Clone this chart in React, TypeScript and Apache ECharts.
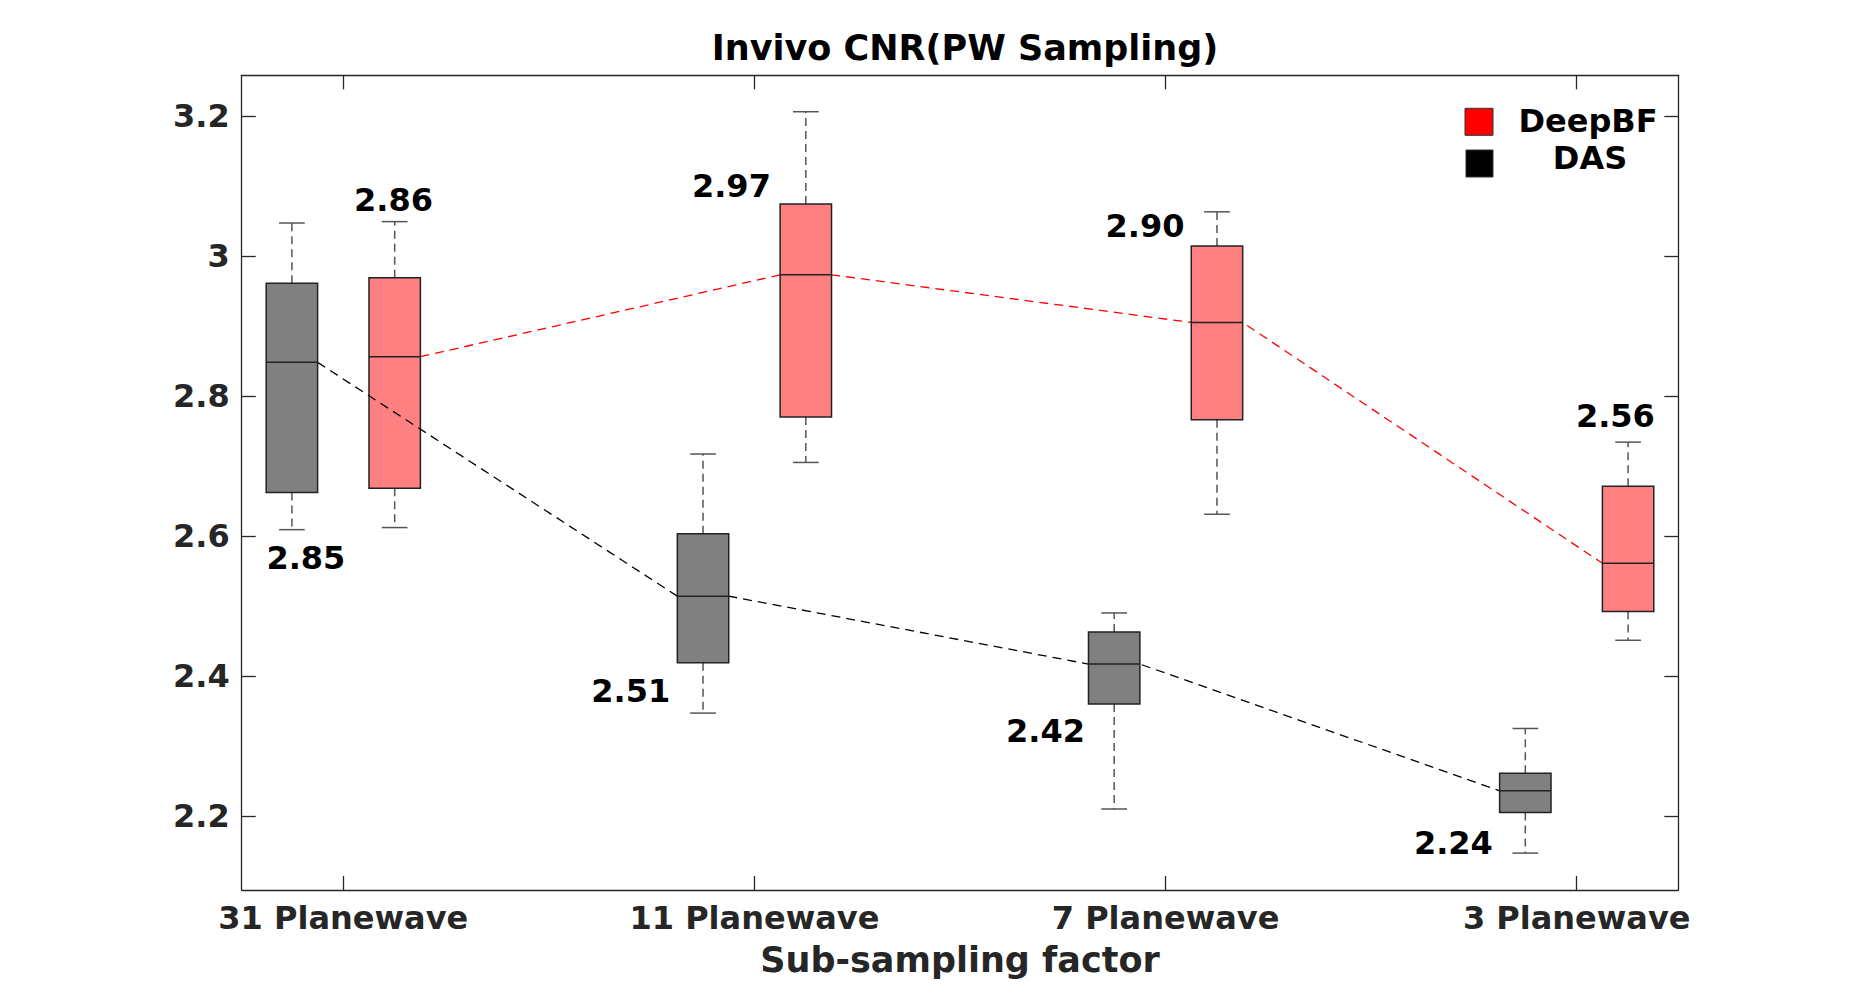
import React, { useEffect, useRef } from "react";
import * as echarts from "echarts";

// ---------------- data ----------------
const categories = ["31 Planewave", "11 Planewave", "7 Planewave", "3 Planewave"];
const groupPos = [1, 2, 3, 4];
const yTicks = [2.2, 2.4, 2.6, 2.8, 3.0, 3.2];

// [min, q1, median, q3, max]
const dasStats = [
  [2.609, 2.662, 2.848, 2.961, 3.047],
  [2.347, 2.419, 2.514, 2.603, 2.717],
  [2.21, 2.36, 2.417, 2.463, 2.49],
  [2.147, 2.205, 2.236, 2.261, 2.325],
];
const deepStats = [
  [2.612, 2.668, 2.856, 2.969, 3.049],
  [2.705, 2.77, 2.973, 3.074, 3.206],
  [2.631, 2.766, 2.905, 3.014, 3.063],
  [2.451, 2.492, 2.561, 2.671, 2.734],
];

const dasLabels = ["2.85", "2.51", "2.42", "2.24"];
const dasLabelX = [0.909, 1.699, 2.708, 3.7];
const dasLabelY = [2.569, 2.379, 2.321, 2.162];
const deepLabels = ["2.86", "2.97", "2.90", "2.56"];
const deepLabelX = [1.122, 1.944, 2.95, 4.094];
const deepLabelY = [3.08, 3.1, 3.043, 2.771];

const legendNames = ["DeepBF", "DAS"];

// ---------------- layout / style constants ----------------
const X_MIN = 0.7529;
const X_MAX = 4.2471;
const Y_MIN = 2.0943;
const Y_MAX = 3.258;
const BOX_OFFSET = 0.125;
const BOX_WIDTH = 0.125;
const FONT = '"DejaVu Sans", "Liberation Sans", sans-serif';
const AXIS_COLOR = "#262626";

function makeRender(fill: string) {
  return (params: any, api: any) => {
    const x = api.value(0);
    const mn = api.value(1);
    const q1 = api.value(2);
    const med = api.value(3);
    const q3 = api.value(4);
    const mx = api.value(5);
    const pMin = api.coord([x, mn]);
    const pQ1 = api.coord([x, q1]);
    const pMed = api.coord([x, med]);
    const pQ3 = api.coord([x, q3]);
    const pMax = api.coord([x, mx]);
    const w = api.size([BOX_WIDTH, 0])[0];
    const cx = pMed[0];
    const whisk = { stroke: "#555555", lineWidth: 1.5, lineDash: [8, 5] };
    const cap = { stroke: "#555555", lineWidth: 1.5 };
    return {
      type: "group",
      children: [
        { type: "line", shape: { x1: cx, y1: pQ3[1], x2: cx, y2: pMax[1] }, style: whisk },
        { type: "line", shape: { x1: cx, y1: pQ1[1], x2: cx, y2: pMin[1] }, style: whisk },
        { type: "line", shape: { x1: cx - w / 4, y1: pMax[1], x2: cx + w / 4, y2: pMax[1] }, style: cap },
        { type: "line", shape: { x1: cx - w / 4, y1: pMin[1], x2: cx + w / 4, y2: pMin[1] }, style: cap },
        {
          type: "rect",
          shape: { x: cx - w / 2, y: pQ3[1], width: w, height: pQ1[1] - pQ3[1] },
          style: { fill, stroke: "#222222", lineWidth: 1.5 },
        },
        {
          type: "line",
          shape: { x1: cx - w / 2, y1: pMed[1], x2: cx + w / 2, y2: pMed[1] },
          style: { stroke: "#222222", lineWidth: 1.5 },
        },
      ],
    };
  };
}

function connectData(stats: number[][], offset: number) {
  const pts: number[][] = [];
  for (let i = 0; i < stats.length - 1; i++) {
    pts.push([groupPos[i] + offset + BOX_WIDTH / 2, stats[i][2]]);
    pts.push([groupPos[i + 1] + offset - BOX_WIDTH / 2, stats[i + 1][2]]);
  }
  return pts;
}

const allLabelTexts = [...deepLabels, ...dasLabels];
const allLabelX = [...deepLabelX, ...dasLabelX];
const allLabelY = [...deepLabelY, ...dasLabelY];

function renderLabel(params: any, api: any) {
  const p = api.coord([api.value(0), api.value(1)]);
  const idx = api.value(2);
  return {
    type: "text",
    x: p[0],
    y: p[1],
    style: {
      text: allLabelTexts[idx],
      textAlign: "center",
      textVerticalAlign: "middle",
      font: `bold 32px ${FONT}`,
      fill: "#000000",
    },
  };
}

export default function App() {
  const ref = useRef<HTMLDivElement>(null);
  useEffect(() => {
    if (!ref.current) return;
    const chart = echarts.init(ref.current, undefined, { renderer: "svg" });
    const axisLine = { show: true, onZero: false, lineStyle: { color: AXIS_COLOR, width: 1.3 } };
    const tickStyle = { color: AXIS_COLOR, width: 1.3 };
    const labelStyle = {
      fontSize: 32,
      fontWeight: "bold" as const,
      color: AXIS_COLOR,
      fontFamily: FONT,
    };
    chart.setOption({
      animation: false,
      backgroundColor: "#fff",
      title: {
        text: "Invivo CNR(PW Sampling)",
        left: 960,
        top: 25,
        textAlign: "center",
        textStyle: { fontSize: 35, fontWeight: "bold", color: "#000", fontFamily: FONT },
      },
      grid: { left: 241.7, top: 75.3, width: 1436.6, height: 814.7 },
      xAxis: [
        {
          type: "value",
          position: "bottom",
          min: X_MIN,
          max: X_MAX,
          axisLine,
          axisTick: { show: true, inside: true, length: 14, customValues: groupPos, lineStyle: tickStyle },
          axisLabel: {
            ...labelStyle,
            margin: 12,
            customValues: groupPos,
            formatter: (v: number) => categories[Math.round(v) - 1] ?? "",
          },
          splitLine: { show: false },
          name: "Sub-sampling factor",
          nameLocation: "middle",
          nameGap: 52,
          nameTextStyle: { fontSize: 35, fontWeight: "bold", color: AXIS_COLOR, fontFamily: FONT },
        },
        {
          type: "value",
          position: "top",
          min: X_MIN,
          max: X_MAX,
          axisLine,
          axisTick: { show: true, inside: true, length: 14, customValues: groupPos, lineStyle: tickStyle },
          axisLabel: { show: false },
          splitLine: { show: false },
        },
      ],
      yAxis: [
        {
          type: "value",
          position: "left",
          min: Y_MIN,
          max: Y_MAX,
          axisLine,
          axisTick: { show: true, inside: true, length: 14, customValues: yTicks, lineStyle: tickStyle },
          axisLabel: { ...labelStyle, margin: 12, customValues: yTicks },
          splitLine: { show: false },
        },
        {
          type: "value",
          position: "right",
          min: Y_MIN,
          max: Y_MAX,
          axisLine,
          axisTick: { show: true, inside: true, length: 14, customValues: yTicks, lineStyle: tickStyle },
          axisLabel: { show: false },
          splitLine: { show: false },
        },
      ],
      series: [
        {
          name: "DeepBF line",
          type: "line",
          z: 1,
          xAxisIndex: 0,
          yAxisIndex: 0,
          symbol: "none",
          data: connectData(deepStats, BOX_OFFSET),
          lineStyle: { color: "#ff0000", width: 1.3, type: [9, 6] },
          silent: true,
        },
        {
          name: "DeepBF",
          type: "custom",
          z: 2,
          xAxisIndex: 0,
          yAxisIndex: 0,
          renderItem: makeRender("#ff8080"),
          encode: { x: 0, y: [1, 2, 3, 4, 5] },
          data: deepStats.map((s, i) => [groupPos[i] + BOX_OFFSET, ...s]),
          silent: true,
        },
        {
          name: "DAS line",
          type: "line",
          z: 3,
          xAxisIndex: 0,
          yAxisIndex: 0,
          symbol: "none",
          data: connectData(dasStats, -BOX_OFFSET),
          lineStyle: { color: "#000000", width: 1.3, type: [9, 6] },
          silent: true,
        },
        {
          name: "DAS",
          type: "custom",
          z: 4,
          xAxisIndex: 0,
          yAxisIndex: 0,
          renderItem: makeRender("#808080"),
          encode: { x: 0, y: [1, 2, 3, 4, 5] },
          data: dasStats.map((s, i) => [groupPos[i] - BOX_OFFSET, ...s]),
          silent: true,
        },
        {
          name: "labels",
          type: "custom",
          z: 5,
          xAxisIndex: 0,
          yAxisIndex: 0,
          silent: true,
          renderItem: renderLabel,
          encode: { x: 0, y: 1 },
          data: allLabelX.map((x, i) => [x, allLabelY[i], i]),
        },
      ],
      graphic: [
        {
          type: "rect",
          shape: { x: 1465, y: 108.3, width: 28, height: 27 },
          style: { fill: "#ff0000", stroke: "#333", lineWidth: 1 },
        },
        {
          type: "rect",
          shape: { x: 1466, y: 150, width: 27, height: 27 },
          style: { fill: "#000000", stroke: "#333", lineWidth: 1 },
        },
        {
          type: "text",
          x: 1588,
          y: 121,
          style: {
            text: legendNames[0],
            textAlign: "center",
            textVerticalAlign: "middle",
            font: `bold 32px ${FONT}`,
            fill: "#000",
          },
        },
        {
          type: "text",
          x: 1590,
          y: 158,
          style: {
            text: legendNames[1],
            textAlign: "center",
            textVerticalAlign: "middle",
            font: `bold 32px ${FONT}`,
            fill: "#000",
          },
        },
      ],
    });
    return () => chart.dispose();
  }, []);
  return (
    <div
      ref={ref}
      style={{ position: "absolute", left: 0, top: 0, width: 1855, height: 1001, background: "#fff" }}
    />
  );
}
